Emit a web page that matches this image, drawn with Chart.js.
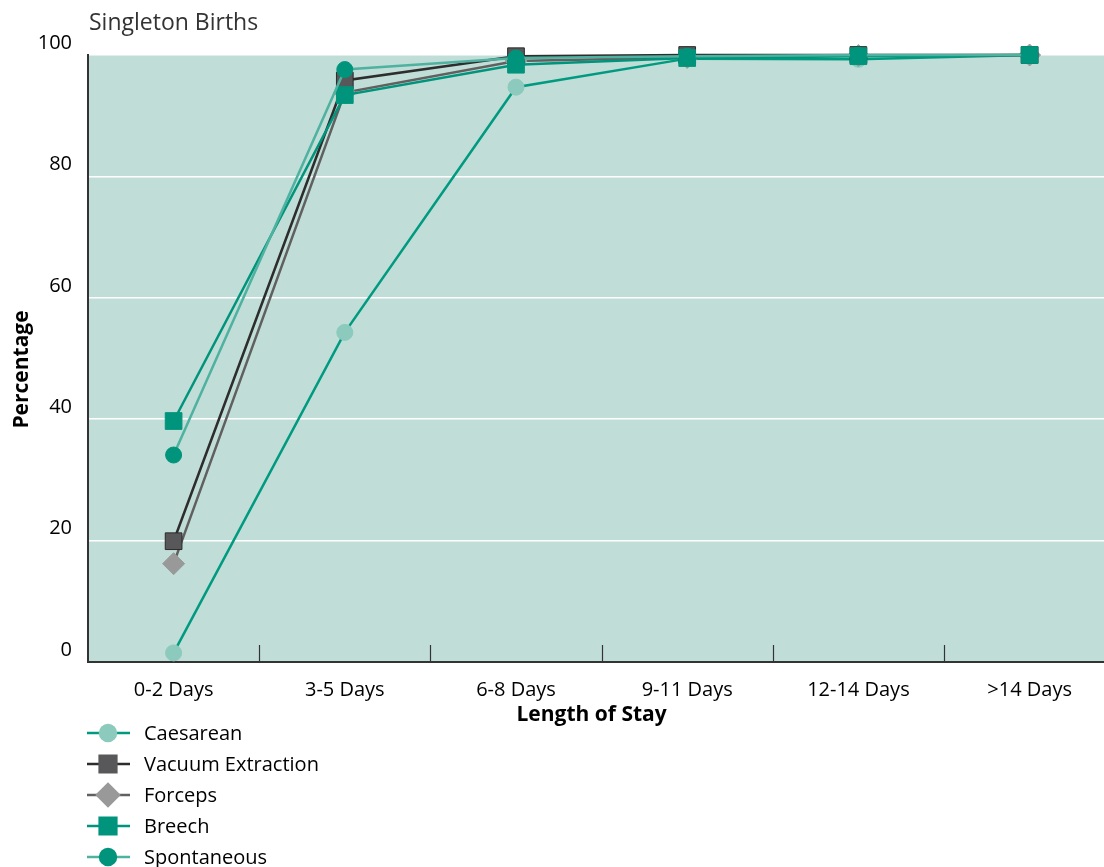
<!DOCTYPE html>
<html>
<head>
<meta charset="utf-8">
<script src="https://cdn.jsdelivr.net/npm/chart.js@4"></script>
<style>
    html, body { margin: 0; padding: 0; background: #fff; overflow: hidden; }
    #wrap { width: 1128px; height: 867px; }
    #chart { display: block; width: 1128px; height: 867px; }
</style>
</head>
<body>
<div id="wrap"><canvas id="chart" width="1128" height="867"></canvas></div>
<script>
// Data
const categories = ['0-2 Days', '3-5 Days', '6-8 Days', '9-11 Days', '12-14 Days', '>14 Days'];
const caesarean = [1.5, 54.3, 94.7, 99.4, 99.3, 100];
const vacuumExtraction = [19.9, 95.8, 99.8, 100, 100, 100];
const forceps = [16.2, 93.8, 99.0, 99.6, 99.9, 100];
const breech = [39.7, 93.4, 98.4, 99.5, 99.8, 100];
const spontaneous = [34.1, 97.6, 99.5, 99.8, 100, 100];
const yTicks = [0, 20, 40, 60, 80, 100];

const FONT = "'Open Sans', 'Noto Sans', sans-serif";
Chart.defaults.font.family = FONT;
Chart.defaults.color = '#000';

// Plot background, titles and inner tick marks
const decorPlugin = {
    id: 'decor',
    beforeDraw(chart) {
        const { ctx, chartArea: a } = chart;
        ctx.save();
        ctx.fillStyle = '#c0ded7';
        ctx.fillRect(a.left, a.top, a.right - a.left, a.bottom - a.top);
        ctx.fillStyle = '#333';
        ctx.font = `23px ${FONT}`;
        ctx.textBaseline = 'middle';
        ctx.fillText('Singleton Births', a.left + 1, a.top - 32);
        // axis titles
        ctx.fillStyle = '#000';
        ctx.font = `bold 21px ${FONT}`;
        ctx.textAlign = 'center';
        ctx.fillText('Length of Stay', (a.left + a.right) / 2 - 10, a.bottom + 53);
        ctx.translate(22, (a.top + a.bottom) / 2 + 11);
        ctx.rotate(-Math.PI / 2);
        ctx.fillText('Percentage', 0, 0);
        ctx.restore();
    },
    beforeDatasetsDraw(chart) {
        const { ctx, chartArea: a, scales: { x } } = chart;
        ctx.save();
        ctx.strokeStyle = '#333';
        ctx.lineWidth = 1.2;
        for (let i = 0; i < categories.length - 1; i++) {
            const px = Math.round((x.getPixelForValue(i) + x.getPixelForValue(i + 1)) / 2) + 0.5;
            ctx.beginPath();
            ctx.moveTo(px, a.bottom);
            ctx.lineTo(px, a.bottom - 17);
            ctx.stroke();
        }
        ctx.restore();
    }
};

// Legend with line through marker
const legendPlugin = {
    id: 'lineLegend',
    afterDraw(chart) {
        const { ctx, chartArea: a } = chart;
        ctx.save();
        chart.data.datasets.forEach((ds, i) => {
            const y = a.bottom + 71 + i * 31;
            const x0 = a.left - 1;
            ctx.strokeStyle = ds.borderColor;
            ctx.lineWidth = 2.5;
            ctx.beginPath();
            ctx.moveTo(x0, y);
            ctx.lineTo(x0 + 43, y);
            ctx.stroke();
            ctx.fillStyle = ds.pointBackgroundColor;
            ctx.strokeStyle = ds.pointBackgroundColor;
            Chart.helpers.drawPoint(ctx, {
                pointStyle: ds.pointStyle,
                radius: ds.pointRadius,
                rotation: 0,
                borderWidth: 1
            }, x0 + 21, y);
            ctx.fillStyle = '#000';
            ctx.font = `20px ${FONT}`;
            ctx.textBaseline = 'middle';
            ctx.fillText(ds.label, x0 + 57, y + 1);
        });
        ctx.restore();
    }
};

function series(label, data, line, fill, edge, style, radius, order) {
    return {
        label: label,
        data: data,
        borderColor: line,
        borderWidth: 2.5,
        pointStyle: style,
        pointRadius: radius,
        pointHoverRadius: radius,
        pointBackgroundColor: fill,
        pointBorderColor: edge,
        pointBorderWidth: 1,
        tension: 0,
        clip: false,
        order: order
    };
}

const ctx = document.getElementById('chart').getContext('2d');
new Chart(ctx, {
    type: 'line',
    data: {
        labels: categories,
        datasets: [
            series('Caesarean', caesarean, '#009a80', '#8ccabd', '#8ccabd', 'circle', 8, 4),
            series('Vacuum Extraction', vacuumExtraction, '#2d2d2d', '#58585a', '#2a2a2a', 'rect', 11.8, 2),
            series('Forceps', forceps, '#606060', '#999999', '#999999', 'rectRot', 11, 3),
            series('Breech', breech, '#00947c', '#00947c', '#00947c', 'rect', 11.8, 1),
            series('Spontaneous', spontaneous, '#4fb2a0', '#00947c', '#00947c', 'circle', 8, 0)
        ]
    },
    options: {
        responsive: false,
        animation: false,
        layout: { padding: { top: 55, right: 0, left: 0, bottom: 138 } },
        plugins: {
            legend: { display: false },
            tooltip: { enabled: false }
        },
        scales: {
            x: {
                offset: true,
                grid: { display: false, drawTicks: false, offset: true },
                border: { display: true, color: '#333', width: 2 },
                ticks: { padding: 16, font: { size: 20 }, maxRotation: 0 },
                afterFit(scale) { scale.height = 67; }
            },
            y: {
                min: 0,
                max: 100,
                afterBuildTicks(scale) { scale.ticks = yTicks.map(v => ({ value: v })); },
                grid: {
                    drawTicks: false,
                    color: c => c.tick && c.tick.value === 0 ? 'rgba(0,0,0,0)' : '#ffffff',
                    lineWidth: 1.5
                },
                border: { display: true, color: '#333', width: 2 },
                ticks: { padding: 16, labelOffset: -12, font: { size: 20 } },
                afterFit(scale) { scale.width = 88; }
            }
        }
    },
    plugins: [decorPlugin, legendPlugin]
});
</script>
</body>
</html>
